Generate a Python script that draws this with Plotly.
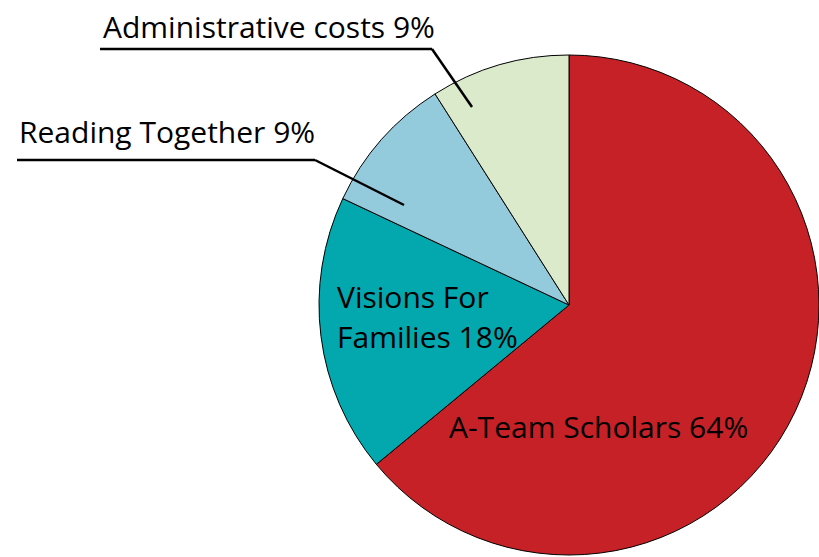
import plotly.graph_objects as go

labels = ["A-Team Scholars", "Visions For Families", "Reading Together", "Administrative costs"]
values = [64, 18, 9, 9]
colors = ["#C62127", "#03A7AE", "#93CBDC", "#DAEACB"]

W, H = 819, 557

def px(x):
    return x / W

def py(y):
    return 1 - y / H

fig = go.Figure(go.Pie(
    labels=labels,
    values=values,
    sort=False,
    direction="clockwise",
    rotation=0,
    textinfo="none",
    hoverinfo="label+percent",
    marker=dict(colors=colors, line=dict(color="black", width=1)),
    domain=dict(x=[px(319), px(819)], y=[py(555), py(55)]),
    showlegend=False,
))

font = dict(family="Open Sans", size=30, color="black")
texts = [f"{l} {v}%" for l, v in zip(labels, values)]

anns = [
    (texts[0], 447, 426),
    ("Visions For", 335, 296),
    ("Families 18%", 335, 336),
    (texts[2], 17, 132),
    (texts[3], 101, 26),
]
for t, x, y in anns:
    fig.add_annotation(text=t, x=px(x), y=py(y), xref="paper", yref="paper",
                       xanchor="left", yanchor="middle", showarrow=False, font=font)

paths = [
    [(100, 49), (432, 49), (472, 107)],
    [(17, 160), (315, 160), (404, 205)],
]
for pts in paths:
    for (x0, y0), (x1, y1) in zip(pts[:-1], pts[1:]):
        fig.add_shape(type="line", xref="paper", yref="paper",
                      x0=px(x0), y0=py(y0), x1=px(x1), y1=py(y1),
                      line=dict(color="black", width=2.5))

fig.update_layout(width=W, height=H, margin=dict(l=0, r=0, t=0, b=0),
                  paper_bgcolor="white", plot_bgcolor="white")
fig.write_html("out.html", config={"displayModeBar": False},
               post_script="document.body.style.margin='0';")
